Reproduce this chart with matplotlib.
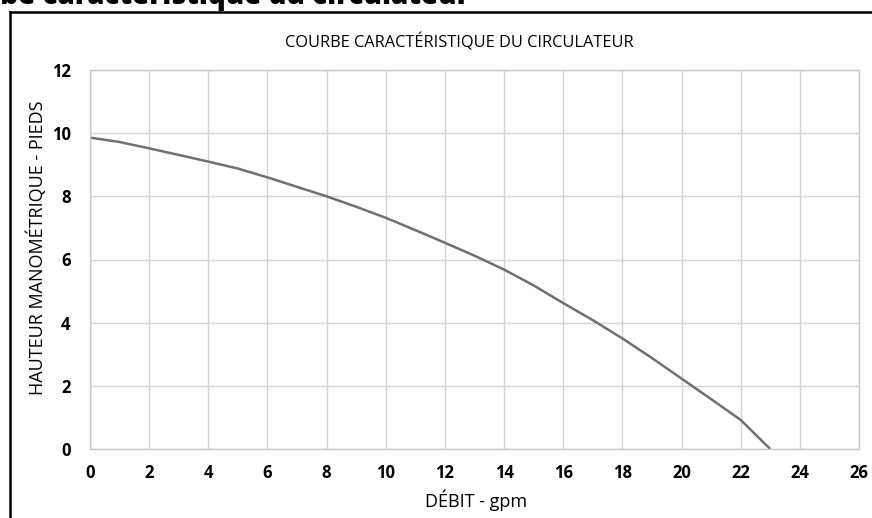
import matplotlib
matplotlib.use("Agg")
import matplotlib.pyplot as plt
from matplotlib.lines import Line2D

plt.rcParams['font.family'] = ['Open Sans', 'DejaVu Sans']

# Pump curve: flow (gpm) vs head (feet)
debit_gpm = [0, 1, 2, 3, 4, 5, 6, 7, 8, 9, 10, 11, 12, 13, 14, 15, 16, 17, 18, 19, 20, 21, 22, 23]
hauteur_pieds = [9.86, 9.72, 9.52, 9.31, 9.10, 8.88, 8.60, 8.30, 8.00, 7.67, 7.32, 6.93, 6.53, 6.12, 5.68, 5.18, 4.62, 4.08, 3.50, 2.88, 2.23, 1.58, 0.92, 0.0]

x_ticks = list(range(0, 27, 2))
y_ticks = list(range(0, 13, 2))

titre_graphique = "COURBE CARACTÉRISTIQUE DU CIRCULATEUR"
titre_page = "Courbe caractéristique du circulateur"
label_x = "DÉBIT - gpm"
label_y = "HAUTEUR MANOMÉTRIQUE - PIEDS"

W, H = 872, 518
fig = plt.figure(figsize=(W / 100, H / 100), dpi=100)
fig.patch.set_facecolor("white")

def fx(px):
    return px / W

def fy(py):
    return 1 - py / H

ax = fig.add_axes([fx(90), fy(449), fx(859) - fx(90), fy(70) - fy(449)])
ax.plot(debit_gpm, hauteur_pieds, color="#707070", linewidth=1.8, solid_capstyle="butt")

ax.set_xlim(0, 26)
ax.set_ylim(0, 12)
ax.set_xticks(x_ticks)
ax.set_yticks(y_ticks)
ax.set_xticklabels([str(v) for v in x_ticks], fontweight="bold", fontsize=12)
ax.set_yticklabels([str(v) for v in y_ticks], fontweight="bold", fontsize=12)
ax.tick_params(length=0, pad=11)
ax.tick_params(axis="y", pad=14)
ax.grid(True, color="#d3d3d3", linewidth=1.0)
ax.set_axisbelow(True)
for s in ax.spines.values():
    s.set_color("#c8c8c8")
    s.set_linewidth(1.0)

fig.text(fx(459), fy(43), titre_graphique, ha="center", va="center", fontsize=11.8)
fig.text(fx(476), fy(500), label_x, ha="center", va="center", fontsize=13)
fig.text(fx(37), fy(248), label_y, ha="center", va="center", rotation=90, fontsize=13)

# Page heading, running past the top edge of the figure
fig.text(fx(470), fy(4), titre_page, ha="right", va="baseline",
         fontsize=20, fontweight="heavy")

# Outer frame (left and top edges)
fig.add_artist(Line2D([fx(9.7), fx(9.7)], [fy(12), -0.05], color="black", linewidth=1.8))
fig.add_artist(Line2D([fx(9.7), 1.05], [fy(12), fy(12)], color="black", linewidth=1.8))

fig.savefig("out.png", dpi=100, facecolor="white")
